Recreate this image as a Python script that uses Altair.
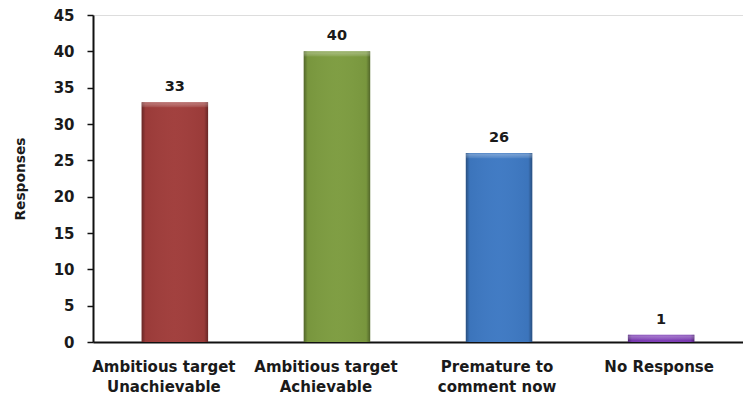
import altair as alt
import pandas as pd

categories = [
    "Ambitious target\nUnachievable",
    "Ambitious target\nAchievable",
    "Premature to\ncomment now",
    "No Response",
]
responses = [33, 40, 26, 1]
colors = ["#a03d3b", "#7d9c40", "#3e79c3", "#7d3cb6"]

df = pd.DataFrame({"category": categories, "responses": responses, "color": colors})

FONT = "DejaVu Sans"
INK = "#1a1a1a"

x = alt.X(
    "category:N",
    sort=categories,
    title=None,
    scale=alt.Scale(paddingInner=0.59, paddingOuter=0.3),
    axis=alt.Axis(
        labelAngle=0,
        labelExpr="split(datum.value, '\\n')",
        labelFont=FONT,
        labelFontWeight="bold",
        labelFontSize=15,
        labelColor=INK,
        labelLineHeight=20,
        labelPadding=17,
        labelOffset={
            "condition": {"test": "indexof(datum.value, 'Ambitious') >= 0", "value": -11},
            "value": -2,
        },
        ticks=False,
        domainColor="#111111",
        domainWidth=2,
    ),
)
y = alt.Y(
    "responses:Q",
    title="Responses",
    scale=alt.Scale(domain=[0, 45]),
    axis=alt.Axis(
        values=list(range(0, 46, 5)),
        grid=False,
        labelFont=FONT,
        labelFontWeight="bold",
        labelFontSize=15,
        labelColor=INK,
        labelPadding=13,
        tickSize=6,
        tickColor="#111111",
        tickWidth=1.5,
        domainColor="#111111",
        domainWidth=2,
        titleFont=FONT,
        titleFontWeight="bold",
        titleFontSize=13.8,
        titleColor=INK,
        titlePadding=26,
    ),
)

base = alt.Chart(df).encode(x=x, y=y)

bars = base.mark_bar().encode(
    color=alt.Color("color:N", scale=None)
)

# darker side edges for a bevelled look
shade = base.mark_bar(
    color=alt.Gradient(
        gradient="linear",
        x1=0, x2=1, y1=0, y2=0,
        stops=[
            alt.GradientStop(offset=0, color="rgba(0,0,0,0.35)"),
            alt.GradientStop(offset=0.06, color="rgba(0,0,0,0.04)"),
            alt.GradientStop(offset=0.5, color="rgba(255,255,255,0.02)"),
            alt.GradientStop(offset=0.94, color="rgba(0,0,0,0.04)"),
            alt.GradientStop(offset=1, color="rgba(0,0,0,0.35)"),
        ],
    )
)

# light strip along the top of each bar
top_strip = (
    alt.Chart(df)
    .transform_calculate(lower="max(datum.responses - 0.7, 0)")
    .mark_bar(
        color=alt.Gradient(
            gradient="linear",
            x1=0, x2=0, y1=0, y2=1,
            stops=[
                alt.GradientStop(offset=0, color="rgba(255,255,255,0.10)"),
                alt.GradientStop(offset=0.3, color="rgba(255,255,255,0.28)"),
                alt.GradientStop(offset=1, color="rgba(255,255,255,0.08)"),
            ],
        )
    )
    .encode(x=x, y=y, y2="lower:Q")
)

text = base.mark_text(
    dy=-15, font=FONT, fontWeight="bold", fontSize=14.5, color=INK
).encode(text="responses:Q")

chart = (
    alt.layer(bars, shade, top_strip, text)
    .properties(
        width=650,
        height=327,
        autosize=alt.AutoSizeParams(type="none"),
        padding={"left": 93, "top": 15, "right": 0, "bottom": 53},
    )
    .configure_view(stroke=None)
    .configure(background="white")
)

chart.save("out.html", embed_options={"renderer": "svg", "actions": False})
